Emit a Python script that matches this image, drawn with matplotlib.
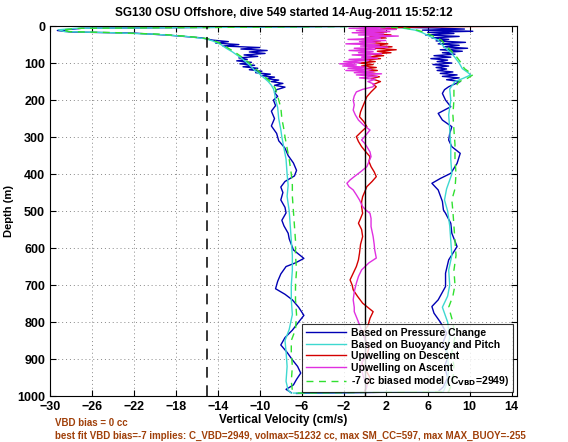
import matplotlib
matplotlib.use('Agg')
import matplotlib.pyplot as plt
import numpy as np

plt.rcParams['font.family'] = ['Liberation Sans', 'DejaVu Sans']
plt.rcParams['font.weight'] = 'bold'
plt.rcParams['mathtext.default'] = 'bf'

# descent, based on pressure change
d_desc_p = [1, 6, 12, 16, 19, 25, 32, 38, 42, 46, 50, 54, 58, 62, 66, 70, 74, 78, 82, 86, 90, 94, 98,
            102, 106, 110, 114, 118, 122, 126, 130, 134, 138, 142, 146, 150, 155, 160, 165, 172, 180,
            190, 200, 215, 230, 250, 270, 290, 310, 330, 350, 370, 390, 405, 420, 435, 450, 470, 490,
            505, 525, 540, 560, 575, 590, 605, 628, 640, 650, 670, 690, 710, 725, 740, 760, 782, 800,
            822, 842, 862, 882, 902, 920, 938, 955, 970, 982, 991]
v_desc_p = [-2.0, -27.0, -29.3, -28.0, -22.0, -18.5, -15.5, -14.5, -13.0, -14.2, -12.0, -13.5, -10.0,
            -11.8, -9.3, -11.0, -9.5, -11.5, -10.2, -12.0, -11.2, -12.2, -10.8, -11.9, -10.5, -11.6,
            -10.2, -11.0, -9.8, -10.4, -9.0, -9.9, -8.6, -9.4, -8.2, -8.9, -7.8, -8.6, -7.6, -8.4, -8.6,
            -8.3, -8.7, -8.5, -8.9, -8.6, -8.9, -8.4, -8.2, -7.6, -7.3, -6.8, -6.5, -6.7, -7.6, -8.0,
            -7.8, -8.0, -7.6, -7.5, -7.9, -7.7, -7.3, -7.2, -7.0, -6.8, -5.8, -6.6, -7.5, -8.0, -8.3,
            -8.5, -7.6, -6.9, -6.3, -5.8, -6.3, -6.9, -7.6, -8.0, -7.4, -6.9, -6.4, -6.1, -6.5, -6.8,
            -7.5, -7.0]

# ascent, based on pressure change
d_asc_p = [993, 988, 975, 950, 920, 890, 860, 830, 800, 776, 758, 740, 704, 668, 632, 596, 560, 533,
           506, 497, 474, 443, 425, 412, 398, 371, 344, 326, 308, 290, 272, 254, 236, 218, 200, 182,
           172, 164, 155, 150, 145, 140, 136, 132, 128, 124, 120, 116, 112, 108, 104, 100, 96, 92, 88,
           84, 80, 76, 72, 68, 64, 60, 56, 52, 48, 44, 40, 36, 32, 28, 24, 20, 17, 14, 11, 8, 5, 2]
v_asc_p = [-6.5, 7.0, 7.5, 7.9, 7.6, 8.0, 7.4, 7.8, 7.2, 6.6, 6.4, 7.0, 7.7, 7.7, 8.0, 8.8, 8.3, 8.2,
           7.7, 7.5, 7.4, 7.0, 6.4, 7.2, 8.2, 8.8, 9.1, 8.3, 8.0, 8.1, 8.3, 7.4, 7.0, 8.2, 7.7, 7.4,
           7.6, 8.0, 8.7, 9.1, 7.8, 9.0, 7.4, 8.8, 7.2, 8.4, 6.9, 7.8, 6.8, 8.0, 6.5, 8.3, 6.9, 7.9,
           6.3, 8.2, 6.6, 8.6, 7.4, 9.3, 7.2, 9.8, 7.5, 9.0, 7.0, 9.6, 6.8, 8.0, 6.4, 9.0, 5.8, 8.5,
           6.0, 10.3, 5.5, 9.5, 6.5, 1.0]

# based on buoyancy and pitch
d_desc_b = [1, 6, 10, 15, 18, 22, 28, 34, 40, 50, 60, 70, 80, 90, 100, 110, 120, 130, 140, 150, 160,
            170, 180, 200, 220, 250, 280, 300, 330, 360, 400, 430, 460, 500, 540, 580, 620, 660, 700,
            740, 780, 820, 850, 880, 920, 960, 985, 992]
v_desc_b = [-1.0, -27.5, -29.2, -28.6, -24.0, -20.0, -17.0, -15.2, -14.5, -13.7, -13.2, -12.6, -12.1,
            -11.6, -11.2, -10.8, -10.5, -10.0, -9.6, -9.2, -8.9, -8.7, -8.6, -8.5, -8.3, -8.2, -8.0,
            -7.9, -7.7, -7.5, -7.4, -7.3, -7.4, -7.2, -7.1, -7.0, -6.9, -6.9, -7.0, -7.0, -6.9, -7.2,
            -7.6, -7.5, -7.4, -7.5, -7.3, -7.0]
d_asc_b = [992, 988, 960, 920, 880, 840, 800, 760, 730, 700, 660, 620, 580, 540, 500, 470, 440, 400,
           360, 320, 280, 240, 200, 170, 150, 141, 132, 125, 115, 100, 85, 74, 60, 48, 38, 28, 18,
           11, 5, 2]
v_asc_b = [-6.8, 7.5, 7.9, 8.0, 7.8, 8.1, 7.9, 7.4, 7.9, 8.1, 8.0, 8.3, 8.2, 8.1, 7.9, 7.6, 7.8, 8.3,
           8.2, 8.2, 8.1, 8.0, 8.2, 8.1, 8.6, 9.4, 10.1, 9.8, 9.3, 9.0, 8.6, 8.3, 7.7, 7.3, 7.0, 6.2,
           5.5, 4.8, 3.5, 1.0]

# -7 cc biased model
d_desc_m = d_desc_b
v_desc_m = [-0.5, -27.0, -28.8, -28.2, -23.5, -19.5, -16.8, -15.0, -14.3, -13.5, -13.0, -12.4, -11.9,
            -11.4, -11.0, -10.6, -10.2, -9.8, -9.4, -9.0, -8.7, -8.5, -8.4, -8.2, -8.0, -7.9, -7.7,
            -7.6, -7.4, -7.2, -7.0, -6.9, -6.9, -6.8, -6.7, -6.6, -6.6, -6.5, -6.6, -6.6, -6.5, -6.6,
            -7.0, -7.0, -6.9, -7.0, -6.9, -6.5]
d_asc_m = d_asc_b
v_asc_m = [-6.4, 8.0, 8.4, 8.5, 8.3, 8.6, 8.4, 8.0, 8.4, 8.6, 8.5, 8.7, 8.6, 8.5, 8.4, 8.3, 8.6, 8.7,
           8.6, 8.6, 8.5, 8.4, 8.5, 8.5, 9.0, 9.8, 10.3, 10.0, 9.5, 9.2, 8.8, 8.5, 8.0, 7.6, 7.3, 6.6,
           5.8, 5.0, 3.8, 1.5]

# upwelling on descent
d_up_d = [0.5, 2, 5, 8, 12, 16, 20, 24, 28, 32, 36, 40, 44, 48, 52, 56, 60, 64, 68, 72, 76, 80, 84,
          88, 92, 96, 100, 104, 108, 112, 116, 120, 124, 128, 132, 137, 142, 150, 158, 164, 178, 191,
          205, 218, 232, 245, 258, 272, 285, 299, 312, 326, 340, 353, 366, 380, 394, 407, 420, 434,
          448, 461, 475, 488, 506, 520, 533, 550, 569, 590, 614, 632, 650, 668, 686, 700, 713, 730,
          749, 772, 790, 810, 830, 850, 870, 890, 910, 930, 950, 970, 988]
v_up_d = [13.5, 6.0, 1.5, 3.0, -0.5, 2.0, 0.2, 2.5, 0.5, 2.0, -0.3, 1.5, 0.2, 2.2, 0.8, 2.6, 1.0, 3.0,
          1.2, 2.5, 0.5, 1.8, 0.2, 1.5, -0.2, 1.0, -0.5, 0.8, -0.3, 1.1, 0.0, 1.2, -0.2, 1.0, 0.2,
          1.4, 0.6, 1.5, 0.8, 1.1, 0.6, 0.2, 0.0, -0.2, -0.4, -0.5, -0.1, 0.2, -0.3, -0.8, -0.6, -0.3,
          0.1, 0.5, 0.4, 0.6, 0.9, 1.1, 0.7, 0.2, 0.0, -0.2, -0.3, -0.3, -0.2, -0.4, -0.6, -0.3, -0.2,
          -0.4, -0.5, -0.6, -0.8, -1.1, -1.4, -1.2, -1.1, -0.7, -0.2, 0.8, 0.5, 0.3, -0.2, 0.1, 0.4,
          0.2, -0.3, 0.1, 0.5, 0.2, 0.0]

# upwelling on ascent
d_up_a = [1, 3, 6, 9, 12, 15, 18, 21, 24, 27, 30, 33, 36, 39, 42, 45, 48, 51, 54, 57, 60, 63, 66, 69,
          72, 75, 78, 81, 84, 87, 90, 93, 96, 99, 102, 105, 108, 111, 114, 117, 120, 123, 126, 129,
          132, 136, 140, 144, 150, 157, 164, 171, 178, 189, 200, 213, 227, 240, 254, 268, 281, 295,
          308, 317, 326, 340, 353, 366, 380, 394, 407, 416, 425, 434, 443, 456, 470, 488, 497, 506,
          520, 542, 569, 590, 605, 627, 640, 659, 677, 695, 718, 740, 760, 772, 800, 830, 860, 890,
          920, 950, 975, 988]
v_up_a = [-0.5, 2.5, -1.5, 3.0, -0.8, 2.4, -1.2, 1.8, -0.6, 3.2, 0.0, 1.5, -1.6, 2.0, -0.5, 1.0, -1.8,
          1.4, -0.4, 2.2, -1.0, 1.0, -1.5, 0.8, -0.6, 1.6, -1.2, 0.6, -0.3, 1.2, -1.5, 0.4, -2.0,
          -0.4, -2.4, -0.8, -2.1, 0.2, -1.6, 0.6, -1.8, 0.8, -1.0, 1.6, -0.8, 1.2, -0.5, 1.0, 0.3,
          0.9, 0.8, -0.2, -0.8, -1.0, -1.1, -1.0, -1.1, -0.9, -0.6, -0.1, 0.5, 0.1, -0.3, 0.0, 0.2,
          0.5, 0.6, 0.4, 0.2, -0.4, -1.0, -1.4, -1.7, -1.5, -1.1, -0.8, -0.5, -0.2, 0.1, 0.5, 0.6,
          0.6, 0.8, 0.9, 0.95, 1.1, 0.4, -0.3, -0.6, -0.8, -1.0, -1.1, -1.0, -1.0, -0.6, -0.2, 0.2,
          0.0, -0.4, -0.1, 0.2, 0.0]

vbd_line = -15
upw_zero = 0

title = 'SG130 OSU Offshore, dive 549 started 14-Aug-2011 15:52:12'
note1 = 'VBD bias = 0 cc'
note2 = ('best fit VBD bias=-7 implies: C_VBD=2949, volmax=51232 cc, '
         'max SM_CC=597, max MAX_BUOY=-255')

c_blue = '#0000b4'
c_cyan = '#3ed8d0'
c_red = '#d40000'
c_mag = '#e030e0'
c_green = '#30e030'

fig = plt.figure(figsize=(5.68, 4.42), dpi=100)
ax = fig.add_axes([0.088, 0.104, 0.822, 0.837])

ax.plot(v_desc_p, d_desc_p, color=c_blue, lw=1.0, label='Based on Pressure Change')
ax.plot(v_asc_p, d_asc_p, color=c_blue, lw=1.0)
ax.plot(v_desc_b, d_desc_b, color=c_cyan, lw=1.0, label='Based on Buoyancy and Pitch')
ax.plot(v_asc_b, d_asc_b, color=c_cyan, lw=1.0)
ax.plot(v_up_d, d_up_d, color=c_red, lw=1.0, label='Upwelling on Descent')
ax.plot(v_up_a, d_up_a, color=c_mag, lw=1.0, label='Upwelling on Ascent')
ax.plot(v_desc_m, d_desc_m, color=c_green, lw=1.0, ls=(0, (5, 4)),
        label=r'-7 cc biased model (C$_{VBD}$=2949)')
ax.plot(v_asc_m, d_asc_m, color=c_green, lw=1.0, ls=(0, (5, 4)))

ax.axvline(vbd_line, color='k', lw=1.1, ls=(0, (7, 5)))
ax.axvline(upw_zero, color='k', lw=1.0)

ax.set_xlim(-30, 14.5)
ax.set_ylim(1000, 0)
ax.set_xticks(np.arange(-30, 15, 4))
ax.set_yticks(np.arange(0, 1001, 100))
ax.grid(True, color='#888888', ls=(0, (1, 3)), lw=0.7)
ax.tick_params(direction='in', top=True, right=True, labelsize=9, length=4)
for lab in ax.get_xticklabels() + ax.get_yticklabels():
    lab.set_fontweight('bold')

ax.set_title(title, fontsize=8.5, fontweight='bold', pad=7)
ax.set_xlabel('Vertical Velocity (cm/s)', fontsize=8.5, fontweight='bold', labelpad=1)
ax.set_ylabel('Depth (m)', fontsize=8, fontweight='bold', labelpad=2)

leg = ax.legend(loc='lower right', fontsize=7.5, frameon=True, fancybox=False,
                edgecolor='k', handlelength=3.8, borderaxespad=0.4,
                labelspacing=0.15, borderpad=0.35, handletextpad=0.5)
leg.get_frame().set_linewidth(0.8)

fig.text(55 / 568, 1 - 423 / 442, note1, color='#a0400a', fontsize=7, fontweight='bold', va='center')
fig.text(55 / 568, 1 - 436 / 442, note2, color='#a0400a', fontsize=7, fontweight='bold', va='center')

fig.savefig('out.png', dpi=100)
